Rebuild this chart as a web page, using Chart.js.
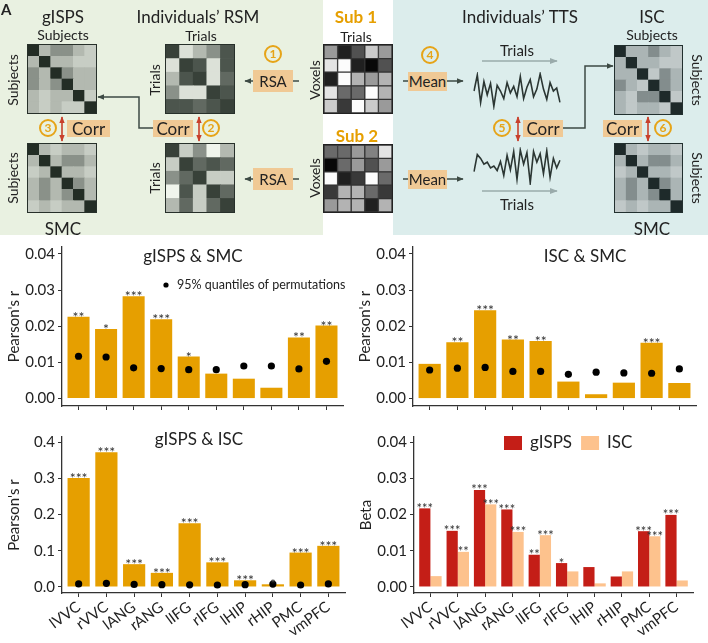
<!DOCTYPE html>
<html>
<head>
<meta charset="utf-8">
<title>gISPS, ISC and SMC</title>
<script src="https://cdn.jsdelivr.net/npm/chart.js@4.4.1/dist/chart.umd.min.js"></script>
<style>
  body { margin: 0; background: #fff; font-family: Lato, "Open Sans", sans-serif; color: #222; }
  #page { position: relative; width: 708px; height: 643px; overflow: hidden; }
  .bg { position: absolute; top: 0; height: 235px; }
  .t { position: absolute; transform: translate(-50%, -50%); white-space: nowrap; font-size: 14px; line-height: 1; z-index: 3; }
  .big { font-size: 17px; }
  .rot { transform: translate(-50%, -50%) rotate(-90deg); }
  .rot90 { transform: translate(-50%, -50%) rotate(90deg); }
  .sub { font-weight: bold; color: #e69f00; font-size: 17px; }
  .box { position: absolute; background: #f0c995; display: flex; align-items: center; justify-content: center; font-size: 17px; line-height: 1; z-index: 2; color: #222; }
  .num { position: absolute; width: 14px; height: 14px; border: 2px solid #e6a418; border-radius: 50%; color: #e6a418; font-size: 12px; font-weight: bold; display: flex; align-items: center; justify-content: center; transform: translate(-50%, -50%); z-index: 3; line-height: 1; }
  canvas { position: absolute; }
  .mg { outline: 1.5px solid #27302a; }
  .mb { outline: 1.5px solid #22302f; }
  .mk { outline: 1.5px solid #222; }
</style>
</head>
<body>
<div id="page">
  <!-- 示意图背景 -->
  <div class="bg" style="left:0;width:323px;background:#e9f1e1"></div>
  <div class="bg" style="left:393px;width:315px;background:#dcedec"></div>
  <div style="position:absolute;left:1px;top:0;font:bold 15px Lato;z-index:3">A</div>

  <svg width="708" height="235" style="position:absolute;left:0;top:0;z-index:1">
    <defs>
      <marker id="ah" viewBox="0 0 10 10" refX="9" refY="5" markerWidth="7" markerHeight="7" markerUnits="userSpaceOnUse" orient="auto-start-reverse"><path d="M0,1 L10,5 L0,9 z" fill="#3d4a44"/></marker>
      <marker id="ahr" viewBox="0 0 10 10" refX="9" refY="5" markerWidth="7" markerHeight="7" markerUnits="userSpaceOnUse" orient="auto-start-reverse"><path d="M0,1 L10,5 L0,9 z" fill="#c8402c"/></marker>
      <marker id="ahg" viewBox="0 0 10 10" refX="9" refY="5" markerWidth="8" markerHeight="8" markerUnits="userSpaceOnUse" orient="auto-start-reverse"><path d="M0,1 L10,5 L0,9 z" fill="#9aabab"/></marker>
    </defs>
    <g stroke="#3d4a44" stroke-width="1.5" fill="none">
      <path d="M299,81 H245" marker-end="url(#ah)"/>
      <path d="M299,179 H245" marker-end="url(#ah)"/>
      <path d="M403,81 H463" marker-end="url(#ah)"/>
      <path d="M403,179 H463" marker-end="url(#ah)"/>
      <path d="M155,128 H139 V97 H98" marker-end="url(#ah)"/>
      <path d="M562,128 H585 V66 H613" marker-end="url(#ah)"/>
    </g>
    <g stroke="#9aabab" stroke-width="1.5" fill="none">
      <path d="M482,61 H557" marker-end="url(#ahg)"/>
      <path d="M482,191 H557" marker-end="url(#ahg)"/>
    </g>
    <g stroke="#c8402c" stroke-width="1.6" fill="none">
      <path d="M62,117 V141" marker-start="url(#ahr)" marker-end="url(#ahr)"/>
      <path d="M199,117 V141" marker-start="url(#ahr)" marker-end="url(#ahr)"/>
      <path d="M518,117 V141" marker-start="url(#ahr)" marker-end="url(#ahr)"/>
      <path d="M648,117 V141" marker-start="url(#ahr)" marker-end="url(#ahr)"/>
    </g>
  </svg>

  <div class="t big" style="left:63px;top:16px">gISPS</div>
  <div class="t" style="left:63px;top:35px">Subjects</div>
  <div class="t rot" style="left:13px;top:80px">Subjects</div>
  <div class="t rot" style="left:13px;top:178px">Subjects</div>
  <div class="t big" style="left:63px;top:228px">SMC</div>
  <div class="t big" style="left:198px;top:16px">Individuals’ RSM</div>
  <div class="t" style="left:201px;top:36px">Trials</div>
  <div class="t rot" style="left:155px;top:80px">Trials</div>
  <div class="t rot" style="left:155px;top:178px">Trials</div>
  <div class="t sub" style="left:356px;top:16px">Sub 1</div>
  <div class="t" style="left:356px;top:37px">Trials</div>
  <div class="t sub" style="left:357px;top:135px">Sub 2</div>
  <div class="t rot" style="left:315px;top:80px">Voxels</div>
  <div class="t rot" style="left:315px;top:178px">Voxels</div>
  <div class="t big" style="left:520px;top:16px">Individuals’ TTS</div>
  <div class="t" style="left:517px;top:50px;font-size:15px">Trials</div>
  <div class="t" style="left:517px;top:204px;font-size:15px">Trials</div>
  <div class="t big" style="left:652px;top:16px">ISC</div>
  <div class="t" style="left:652px;top:35px">Subjects</div>
  <div class="t rot90" style="left:697px;top:80px">Subjects</div>
  <div class="t rot90" style="left:697px;top:178px">Subjects</div>
  <div class="t big" style="left:652px;top:228px">SMC</div>

  <div class="box" style="left:67px;top:120px;width:43px;height:17px">Corr</div>
  <div class="box" style="left:153px;top:120px;width:40px;height:17px">Corr</div>
  <div class="box" style="left:253px;top:70px;width:40px;height:22px;font-size:15px">RSA</div>
  <div class="box" style="left:253px;top:168px;width:40px;height:22px;font-size:15px">RSA</div>
  <div class="box" style="left:408px;top:72px;width:39px;height:19px;font-size:15px">Mean</div>
  <div class="box" style="left:408px;top:170px;width:39px;height:19px;font-size:15px">Mean</div>
  <div class="box" style="left:523px;top:120px;width:40px;height:17px">Corr</div>
  <div class="box" style="left:603px;top:120px;width:39px;height:17px">Corr</div>

  <div class="num" style="left:273px;top:54px">1</div>
  <div class="num" style="left:211px;top:128px">2</div>
  <div class="num" style="left:48px;top:128px">3</div>
  <div class="num" style="left:430px;top:55px">4</div>
  <div class="num" style="left:502px;top:128px">5</div>
  <div class="num" style="left:663px;top:128px">6</div>

  <!-- 矩阵 -->
  <canvas id="mGisps" class="mg" width="68" height="68" style="left:28px;top:45px"></canvas>
  <canvas id="mSmcL" class="mg" width="68" height="68" style="left:28px;top:144px"></canvas>
  <canvas id="mRsm1" class="mg" width="68" height="68" style="left:166px;top:45px"></canvas>
  <canvas id="mRsm2" class="mg" width="68" height="68" style="left:166px;top:144px"></canvas>
  <canvas id="mSub1" class="mk" width="68" height="68" style="left:324px;top:45px"></canvas>
  <canvas id="mSub2" class="mk" width="68" height="67" style="left:324px;top:145px"></canvas>
  <canvas id="mIsc" class="mb" width="67" height="68" style="left:615px;top:46px"></canvas>
  <canvas id="mSmcR" class="mb" width="67" height="68" style="left:615px;top:144px"></canvas>
  <canvas id="ts1" width="90" height="42" style="left:472px;top:70px"></canvas>
  <canvas id="ts2" width="90" height="42" style="left:472px;top:145px"></canvas>

  <!-- 柱状图 -->
  <canvas id="c1" width="350" height="185" style="left:0;top:235px"></canvas>
  <canvas id="c2" width="357" height="185" style="left:351px;top:235px"></canvas>
  <canvas id="c3" width="350" height="223" style="left:0;top:420px"></canvas>
  <canvas id="c4" width="356" height="223" style="left:352px;top:420px"></canvas>
</div>

<script>
// 脑区
const regions = ['lVVC', 'rVVC', 'lANG', 'rANG', 'lIFG', 'rIFG', 'lHIP', 'rHIP', 'PMC', 'vmPFC'];

// gISPS & SMC
const gispsSmc = [0.0226, 0.0192, 0.0283, 0.0219, 0.0116, 0.0069, 0.0055, 0.0030, 0.0169, 0.0202];
const gispsSmcPerm = [0.0117, 0.0115, 0.0085, 0.0083, 0.0080, 0.0080, 0.0090, 0.0090, 0.0082, 0.0103];
const gispsSmcStars = ['**', '*', '***', '***', '*', '', '', '', '**', '**'];

// ISC & SMC
const iscSmc = [0.0096, 0.0156, 0.0244, 0.0163, 0.0159, 0.0047, 0.0012, 0.0044, 0.0154, 0.0043];
const iscSmcPerm = [0.0079, 0.0084, 0.0086, 0.0075, 0.0075, 0.0067, 0.0073, 0.0071, 0.0070, 0.0082];
const iscSmcStars = ['', '**', '***', '**', '**', '', '', '', '***', ''];

// gISPS & ISC
const gispsIsc = [0.301, 0.372, 0.063, 0.039, 0.176, 0.068, 0.0185, 0.0074, 0.095, 0.1136];
const gispsIscPerm = [0.0085, 0.0100, 0.0070, 0.0065, 0.0060, 0.0055, 0.0065, 0.0080, 0.0055, 0.0085];
const gispsIscStars = ['***', '***', '***', '***', '***', '***', '***', '*', '***', '***'];

// Beta
const betaGisps = [0.0217, 0.0155, 0.0268, 0.0214, 0.0089, 0.0066, 0.0055, 0.0029, 0.0154, 0.0199];
const betaIsc = [0.0030, 0.0097, 0.0228, 0.0152, 0.0143, 0.0043, 0.0010, 0.0043, 0.0140, 0.0018];
const betaGispsStars = ['***', '***', '***', '***', '**', '*', '', '', '***', '***'];
const betaIscStars = ['', '**', '***', '***', '***', '', '', '', '***', ''];

const smallTicks = [0, 0.01, 0.02, 0.03, 0.04];
const bigTicks = [0, 0.1, 0.2, 0.3, 0.4];

// 示意图矩阵 (0 = 深, 10 = 浅)
const gispsMat = [
    [0, 7, 5, 5, 7, 8],
    [7, 0, 7, 7, 8, 8],
    [5, 7, 0, 5, 7, 7],
    [5, 7, 5, 0, 7, 7],
    [7, 8, 7, 7, 0, 8],
    [7, 8, 7, 8, 8, 0]
];
const smcMat = [
    [0, 7, 8, 7, 7, 8],
    [7, 0, 7, 5, 5, 7],
    [8, 7, 0, 7, 7, 8],
    [7, 5, 7, 0, 5, 7],
    [7, 5, 7, 5, 0, 7],
    [8, 7, 8, 7, 7, 0]
];
const iscMat = [
    [0, 7, 7, 5, 7, 8],
    [7, 0, 7, 7, 8, 8],
    [7, 7, 0, 8, 5, 7],
    [5, 7, 8, 0, 5, 7],
    [7, 8, 5, 5, 0, 8],
    [7, 8, 7, 7, 8, 0]
];
const rsm1 = [
    [1, 9, 7, 5, 2],
    [9, 1, 2, 9, 2],
    [7, 2, 1, 9, 3],
    [5, 9, 9, 1, 2],
    [2, 2, 3, 2, 1]
];
const rsm2 = [
    [1, 8, 5, 10, 7],
    [8, 1, 3, 2, 3],
    [5, 3, 1, 8, 8],
    [10, 2, 8, 1, 3],
    [7, 3, 8, 3, 1]
];
const sub1 = [
    [6, 1, 3, 8, 6],
    [9, 10, 1, 0, 3],
    [1, 10, 7, 6, 7],
    [9, 4, 4, 10, 7],
    [8, 2, 10, 8, 6]
];
const sub2 = [
    [4, 4, 6, 5, 9],
    [0, 4, 6, 3, 6],
    [10, 1, 2, 10, 4],
    [2, 7, 7, 4, 2],
    [6, 7, 7, 1, 7]
];

// 时间序列
const tts1 = [0.50, 0.92, 0.20, 0.75, 0.40, 0.70, 0.10, 0.65, 0.50, 0.30, 0.72, 0.45, 0.62, 0.35, 0.88, 0.30, 0.60, 0.80, 0.35, 0.55, 0.95, 0.55, 0.28, 0.72, 0.50, 0.58, 0.20];
const tts2 = [0.35, 0.80, 0.70, 0.55, 0.60, 0.45, 0.50, 0.38, 0.62, 0.25, 0.78, 0.40, 0.88, 0.15, 0.92, 0.55, 0.85, 0.05, 0.88, 0.60, 0.82, 0.30, 0.90, 0.20, 0.70, 0.45, 0.65];

const orange = '#e69f00';
const red = '#c41e17';
const peach = '#fdc28d';

const greenRamp = [[35, 45, 37], [240, 245, 236]];
const blueRamp = [[30, 42, 42], [232, 240, 240]];
const grayRamp = [[8, 8, 8], [252, 252, 252]];

Chart.defaults.font.family = 'Lato, "Open Sans", sans-serif';

function shade(v, ramp) {
    const k = v / 10;
    const c = ramp[0].map((d, j) => Math.round(d + (ramp[1][j] - d) * k));
    return `rgb(${c.join(',')})`;
}

// 用堆叠柱画矩阵
function drawMatrix(id, cells, ramp, edge) {
    const n = cells.length;
    const datasets = [];
    for (let r = n - 1; r >= 0; r--) {
        datasets.push({
            data: cells[r].map(() => 1),
            backgroundColor: cells[r].map(v => shade(v, ramp)),
            borderColor: edge || 'rgba(0,0,0,0)',
            borderWidth: edge ? 1 : 0,
            borderSkipped: false,
            categoryPercentage: 1,
            barPercentage: 1
        });
    }
    new Chart(document.getElementById(id), {
        type: 'bar',
        data: { labels: cells[0].map((_, i) => i), datasets },
        options: {
            responsive: false, animation: false, events: [], devicePixelRatio: 1,
            layout: { padding: 0 },
            plugins: { legend: { display: false }, tooltip: { enabled: false } },
            scales: {
                x: { display: false, stacked: true },
                y: { display: false, stacked: true, min: 0, max: n }
            }
        }
    });
}

function drawTrace(id, values) {
    new Chart(document.getElementById(id), {
        type: 'line',
        data: {
            labels: values.map((_, i) => i),
            datasets: [{ data: values, borderColor: '#2b3633', borderWidth: 1.6, pointRadius: 0, tension: 0 }]
        },
        options: {
            responsive: false, animation: false, events: [], devicePixelRatio: 1,
            layout: { padding: 2 },
            plugins: { legend: { display: false }, tooltip: { enabled: false } },
            scales: { x: { display: false }, y: { display: false, min: 0, max: 1 } }
        }
    });
}

drawMatrix('mGisps', gispsMat, greenRamp);
drawMatrix('mSmcL', smcMat, greenRamp);
drawMatrix('mRsm1', rsm1, greenRamp);
drawMatrix('mRsm2', rsm2, greenRamp);
drawMatrix('mSub1', sub1, grayRamp, '#333');
drawMatrix('mSub2', sub2, grayRamp, '#333');
drawMatrix('mIsc', iscMat, blueRamp);
drawMatrix('mSmcR', smcMat, blueRamp);
drawTrace('ts1', tts1);
drawTrace('ts2', tts2);

// 标题, 图例, 星号
const annot = {
    id: 'annot',
    afterDatasetsDraw(chart, args, opts) {
        const ctx = chart.ctx;
        const a = chart.chartArea;
        ctx.save();
        ctx.fillStyle = '#333';
        ctx.textAlign = 'center';
        ctx.textBaseline = 'alphabetic';
        ctx.font = `${opts.starSize || 14}px Lato`;
        (opts.stars || []).forEach((st, di) => {
            chart.getDatasetMeta(di).data.forEach((bar, i) => {
                if (st[i]) ctx.fillText(st[i], bar.x, bar.y + (opts.starDy || 5));
            });
        });
        ctx.fillStyle = '#222';
        if (opts.title) {
            ctx.font = '17px Lato';
            ctx.textBaseline = 'middle';
            ctx.fillText(opts.title, a.left + opts.titleX * (a.right - a.left), a.top + opts.titleY);
        }
        const lg = opts.legend;
        if (lg && lg.type === 'dot') {
            const x = a.left + lg.x, y = a.top + lg.y;
            const ds = chart.data.datasets[1];
            ctx.fillStyle = ds.backgroundColor;
            ctx.beginPath();
            ctx.arc(x, y, 2.6, 0, Math.PI * 2);
            ctx.fill();
            ctx.fillStyle = '#222';
            ctx.font = '12.5px Lato';
            ctx.textAlign = 'left';
            ctx.textBaseline = 'middle';
            ctx.fillText(lg.text, x + 11, y);
        }
        if (lg && lg.type === 'box') {
            let x = a.left + lg.x;
            const y = a.top + lg.y;
            ctx.font = '17px Lato';
            ctx.textAlign = 'left';
            ctx.textBaseline = 'middle';
            chart.data.datasets.forEach(ds => {
                ctx.fillStyle = ds.backgroundColor;
                ctx.fillRect(x, y, 18, 14);
                ctx.fillStyle = '#222';
                ctx.fillText(ds.label, x + 26, y + 7);
                x += 26 + ctx.measureText(ds.label).width + 9;
            });
        }
        ctx.restore();
    }
};

const xy = vals => vals.map((v, i) => ({ x: i, y: v }));

function yAxis(title, ticks, lo, hi, dec) {
    return {
        type: 'linear', min: lo, max: hi, bounds: 'data',
        afterBuildTicks: s => { s.ticks = ticks.map(v => ({ value: v })); },
        afterFit: s => { s.width = 62; },
        ticks: { callback: v => v.toFixed(dec), font: { size: 15 }, color: '#222', padding: 3 },
        grid: { drawOnChartArea: false, tickLength: 4, color: '#333', lineWidth: 1 },
        border: { color: '#333', width: 1.3 },
        title: { display: true, text: title, font: { size: 15 }, color: '#222', padding: { top: 5, bottom: 0 } }
    };
}

function xAxis(showLabels, h) {
    return {
        type: 'linear', min: -0.6, max: regions.length - 0.4, bounds: 'data', offset: false,
        afterBuildTicks: s => { s.ticks = regions.map((_, i) => ({ value: i })); },
        afterFit: s => { s.height = h; },
        ticks: {
            autoSkip: false,
            minRotation: showLabels ? 36 : 0, maxRotation: showLabels ? 36 : 0,
            callback: (v, i) => showLabels ? regions[i] : '',
            font: { size: 15 }, color: '#222', padding: 1
        },
        grid: { drawOnChartArea: false, tickLength: 4, color: '#333', offset: false },
        border: { color: '#333', width: 1.3 }
    };
}

function baseOptions(pad, yA, xA, annotOpts) {
    return {
        responsive: false, animation: false, events: [], devicePixelRatio: 1,
        layout: { padding: pad },
        plugins: { legend: { display: false }, tooltip: { enabled: false }, annot: annotOpts },
        scales: { x: xA, y: yA }
    };
}

function permChart(id, vals, perm, stars, pad, yA, xA, annotOpts) {
    new Chart(document.getElementById(id), {
        type: 'bar',
        data: {
            datasets: [
                { type: 'bar', data: xy(vals), backgroundColor: orange, categoryPercentage: 1, barPercentage: 0.8, order: 1 },
                { type: 'scatter', data: xy(perm), pointRadius: 3.6, backgroundColor: '#000', borderWidth: 0, order: 0 }
            ]
        },
        options: baseOptions(pad, yA, xA, Object.assign({ stars: [stars] }, annotOpts)),
        plugins: [annot]
    });
}

permChart('c1', gispsSmc, gispsSmcPerm, gispsSmcStars,
    { top: 12, right: 7, left: 0, bottom: 0 },
    yAxis("Pearson's r", smallTicks, -0.00205, 0.0419, 2), xAxis(false, 14),
    { title: 'gISPS & SMC', titleX: 0.466, titleY: 10,
      legend: { type: 'dot', x: 104, y: 38, text: '95% quantiles of permutations' } });

permChart('c2', iscSmc, iscSmcPerm, iscSmcStars,
    { top: 12, right: 12, left: 0, bottom: 0 },
    yAxis("Pearson's r", smallTicks, -0.00205, 0.0419, 2), xAxis(false, 14),
    { title: 'ISC & SMC', titleX: 0.608, titleY: 10 });

permChart('c3', gispsIsc, gispsIscPerm, gispsIscStars,
    { top: 17, right: 5, left: 0, bottom: 0 },
    yAxis("Pearson's r", bigTicks, -0.0166, 0.414, 1), xAxis(true, 50),
    { title: 'gISPS & ISC', titleX: 0.484, titleY: 3 });

new Chart(document.getElementById('c4'), {
    type: 'bar',
    data: {
        datasets: [
            { type: 'bar', label: 'gISPS', data: xy(betaGisps), backgroundColor: red, categoryPercentage: 0.82, barPercentage: 1 },
            { type: 'bar', label: 'ISC', data: xy(betaIsc), backgroundColor: peach, categoryPercentage: 0.82, barPercentage: 1 }
        ]
    },
    options: baseOptions({ top: 17, right: 15, left: 0, bottom: 0 },
        yAxis('Beta', smallTicks, -0.00166, 0.0414, 2), xAxis(true, 50),
        { stars: [betaGispsStars, betaIscStars], starSize: 13, starDy: 4.5,
          legend: { type: 'box', x: 90, y: -1 } }),
    plugins: [annot]
});
</script>
</body>
</html>
